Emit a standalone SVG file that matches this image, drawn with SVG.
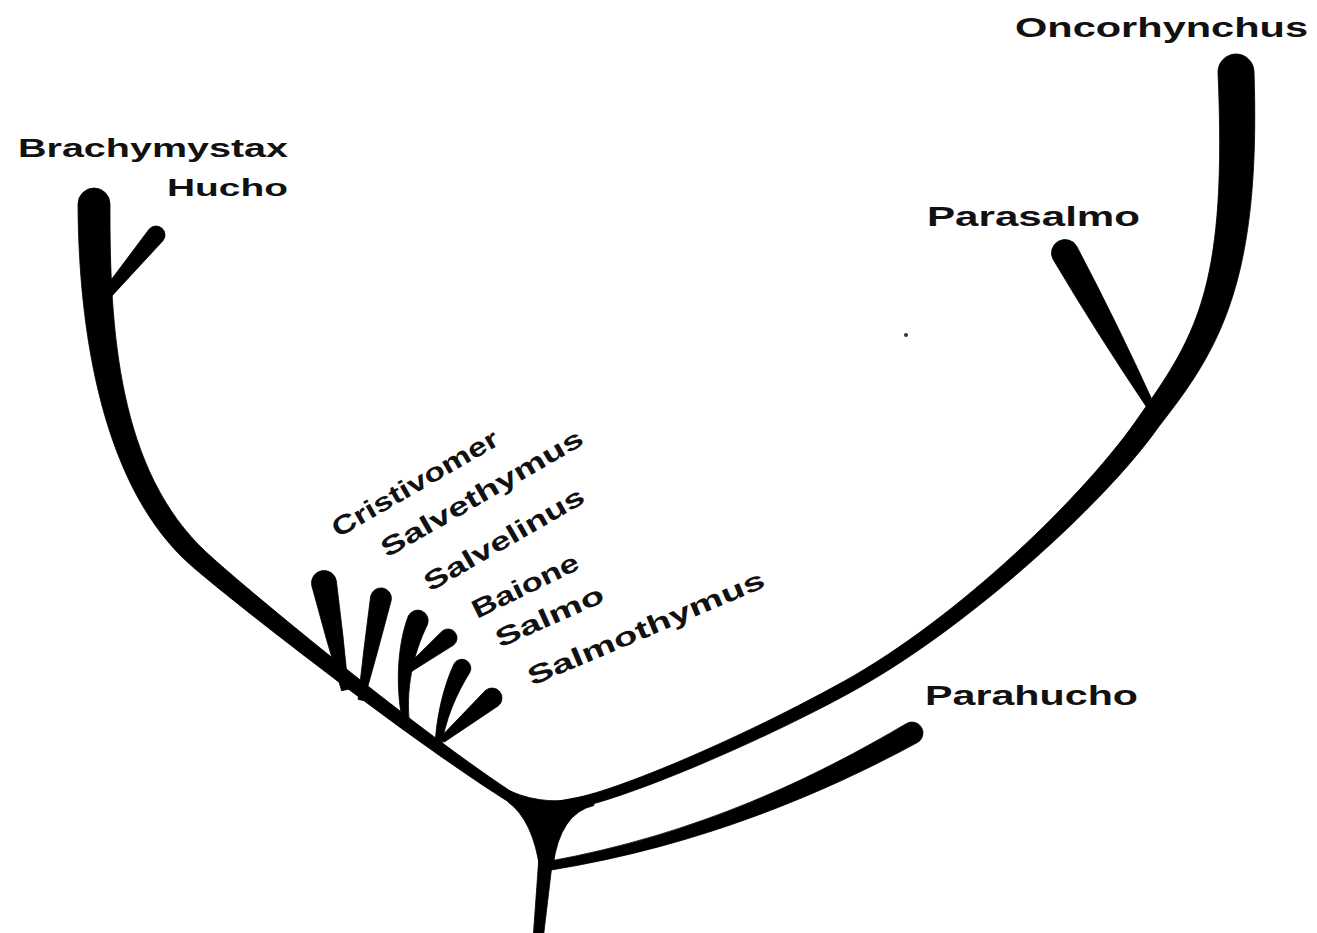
<svg xmlns="http://www.w3.org/2000/svg" width="1317" height="933" viewBox="0 0 1317 933">
<style>
.br{fill:#000;stroke:#000;stroke-width:0.8;stroke-linejoin:round}
.lb{font-family:"Liberation Sans",Arial,Helvetica,sans-serif;font-weight:bold;fill:#111}
</style>
<rect width="1317" height="933" fill="#fff"/>

<g id="connectors">
  <g id="trunk">
    <path class="br" d="M510,791 Q548,808 592,795.5 L594,805.5 Q560,813 553,866 L540,870 Q533,820 508,802 Z"/>
    <path class="br" d="M539,856 L553,856 L543,940 L533,940 Z"/>
  </g>
</g>

<g id="node-brachymystax">
  <path class="br" d="M78,204 C78.5,330 101.7,489.3 193.4,567.5 C239,606.7 416.8,745.1 512.3,804.2 L530,812 L536,803 L517.7,795.8 C423.2,734.9 251,593.3 206.6,552.5 C118.3,470.7 109.5,330 110,204 A16 16 0 0 0 78,204 Z"/>
  <text class="lb" x="18" y="157" font-size="25" textLength="270" lengthAdjust="spacingAndGlyphs">Brachymystax</text>
</g>

<g id="node-hucho">
  <path class="br" d="M149.1,229.2 L102.2,291.8 L109.8,298.2 L162.9,240.8 A9 9 0 0 0 149.1,229.2 Z"/>
  <text class="lb" x="167" y="196" font-size="24" textLength="121" lengthAdjust="spacingAndGlyphs">Hucho</text>
</g>

<g id="node-oncorhynchus">
  <path class="br" d="M1218,72.7 C1227,280.7 1199.2,331.9 1141.1,413.6 C1086.8,494.3 956.6,618.9 843.9,681.3 C744.1,736.7 619.1,790.1 574.1,798.1 L548,803 L548,812 L575.9,807.9 C620.9,799.9 749.9,747.3 850.1,692.7 C963.4,631.1 1103.2,505.7 1158.9,426.4 C1220.8,348.1 1261,279.3 1254,71.3 A18 18 0 0 0 1218,72.7 Z"/>
  <text class="lb" x="1015" y="37" font-size="28" textLength="293" lengthAdjust="spacingAndGlyphs">Oncorhynchus</text>
</g>

<g id="node-parasalmo">
  <path class="br" d="M1053.2,259.6 Q1097.7,334.5 1146.5,407 L1153.5,403 Q1117.3,323.5 1076.8,246.4 A13.5 13.5 0 0 0 1053.2,259.6 Z"/>
  <text class="lb" x="927" y="226" font-size="28" textLength="213" lengthAdjust="spacingAndGlyphs">Parasalmo</text>
</g>

<g id="node-parahucho">
  <path class="br" d="M906.6,723.4 C815.6,777.2 699,834.1 547.2,861.6 L548.8,870.4 C701,845.9 824.4,792.8 917.4,742.6 A11 11 0 0 0 906.6,723.4 Z"/>
  <text class="lb" x="925" y="705" font-size="28" textLength="213" lengthAdjust="spacingAndGlyphs">Parahucho</text>
</g>

<g id="node-cristivomer">
  <path class="br" d="M311.7,585.4 Q325.7,638.2 341.6,690.7 L348.4,689.3 Q343.3,634.8 336.3,580.6 A12.5 12.5 0 0 0 311.7,585.4 Z"/>
  <text class="lb" x="338" y="538" font-size="26" textLength="188" lengthAdjust="spacingAndGlyphs" transform="rotate(-30 338 538)">Cristivomer</text>
</g>

<g id="node-salvethymus">
  <path class="br" d="M370.7,596 Q363.9,647.6 358.1,699.4 L363.9,700.6 Q378.1,650.4 391.3,600 A10.5 10.5 0 0 0 370.7,596 Z"/>
  <text class="lb" x="387" y="558" font-size="26" textLength="229" lengthAdjust="spacingAndGlyphs" transform="rotate(-30 387 558)">Salvethymus</text>
</g>

<g id="node-salvelinus">
  <path class="br" d="M408.4,615.8 C396.7,646.4 395.1,690.9 404,728.5 L410,727.5 C404.9,689.1 413.3,653.6 427.6,624.2 A10.5 10.5 0 0 0 408.4,615.8 Z"/>
  <text class="lb" x="430" y="592" font-size="26" textLength="181" lengthAdjust="spacingAndGlyphs" transform="rotate(-30 430 592)">Salvelinus</text>
</g>

<g id="node-baione">
  <path class="br" d="M442.4,630.9 Q422.8,650.3 403.1,669.6 L406.9,674.4 Q430.2,659.7 453.6,645.1 A9 9 0 0 0 442.4,630.9 Z"/>
  <text class="lb" x="477" y="619" font-size="26" textLength="116" lengthAdjust="spacingAndGlyphs" transform="rotate(-26 477 619)">Baione</text>
</g>

<g id="node-salmo">
  <path class="br" d="M454.1,663.7 C443.4,686.4 435.5,719.7 435,749.8 L441,750.2 C444.5,720.3 456.6,693.6 469.9,672.3 A9 9 0 0 0 454.1,663.7 Z"/>
  <text class="lb" x="500" y="648" font-size="26" textLength="116" lengthAdjust="spacingAndGlyphs" transform="rotate(-24 500 648)">Salmo</text>
</g>

<g id="node-salmothymus">
  <path class="br" d="M485.6,690.3 Q462.8,714 440.1,737.7 L443.9,742.3 Q471.2,724 498.4,705.7 A10 10 0 0 0 485.6,690.3 Z"/>
  <text class="lb" x="532" y="686" font-size="26" textLength="255" lengthAdjust="spacingAndGlyphs" transform="rotate(-23 532 686)">Salmothymus</text>
</g>

<circle cx="906" cy="335" r="2" fill="#333"/>
</svg>
